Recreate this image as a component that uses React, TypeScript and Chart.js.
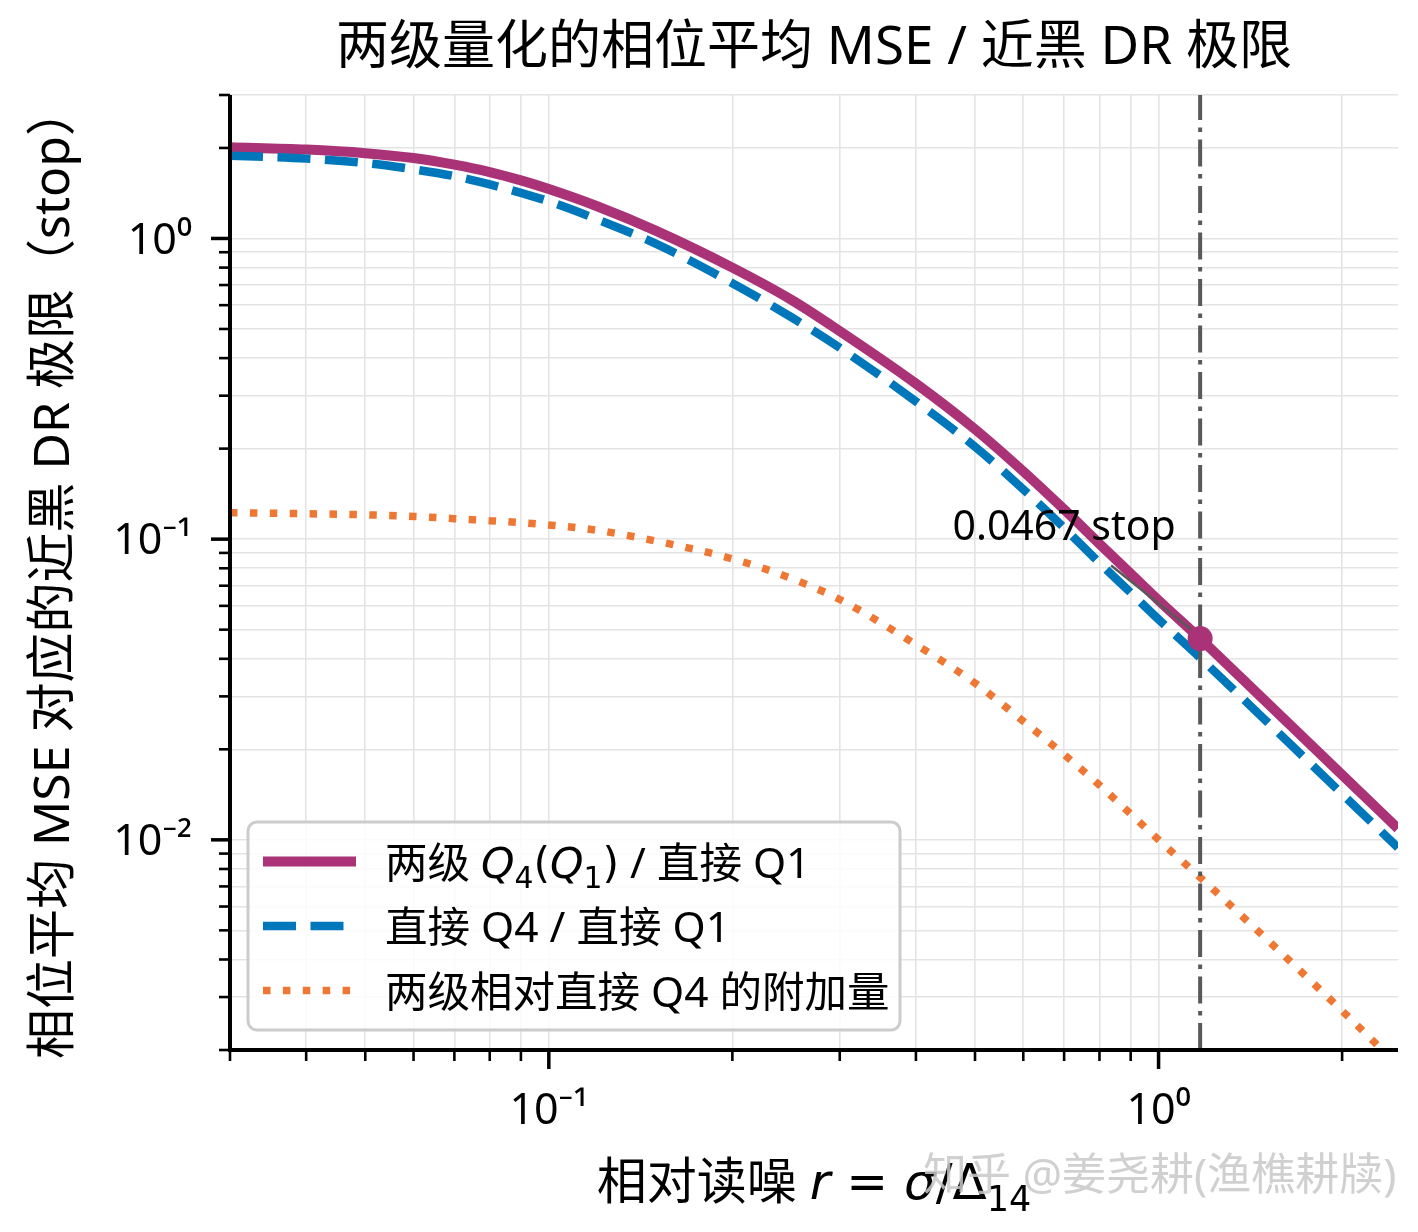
import React, { useEffect, useRef } from 'react';
import { Chart, registerables } from 'chart.js';

Chart.register(...registerables);

// ---------------- data ----------------
const rValues = [0.03, 0.04, 0.05, 0.06, 0.07, 0.08, 0.09, 0.1, 0.12, 0.15, 0.2, 0.25, 0.3, 0.4, 0.5, 0.6, 0.7, 0.8, 0.9, 1.0, 1.17, 1.5, 2.0, 2.47];
const twoLevelValues = [2.01, 1.975, 1.922, 1.852, 1.76, 1.663, 1.56, 1.46, 1.28, 1.06, 0.8, 0.625, 0.492, 0.329, 0.232, 0.168, 0.1255, 0.0965, 0.0768, 0.0626, 0.0467, 0.0288, 0.01645, 0.0109];
const directQ4Values = [1.885, 1.843, 1.782, 1.698, 1.612, 1.513, 1.417, 1.329, 1.158, 0.959, 0.71, 0.547, 0.433, 0.287, 0.203, 0.1465, 0.109, 0.0834, 0.0664, 0.0541, 0.0403, 0.0249, 0.01421, 0.00942];
const extraValues = [0.1225, 0.1215, 0.1205, 0.119, 0.117, 0.1152, 0.1135, 0.1115, 0.107, 0.0985, 0.086, 0.074, 0.063, 0.0446, 0.0332, 0.0248, 0.0192, 0.0152, 0.0122, 0.01, 0.0075, 0.0047, 0.0027, 0.00178];

const stopR = 1.17;
const stopValue = 0.0467;

const xMin = 0.03;
const xMax = 2.47;
const yMin = 0.002;
const yMax = 3;

const xMajorTicks = [0.1, 1];
const xMajorLabels = ['10⁻¹', '10⁰'];
const xMinorTicks = [0.03, 0.04, 0.05, 0.06, 0.07, 0.08, 0.09, 0.2, 0.3, 0.4, 0.5, 0.6, 0.7, 0.8, 0.9, 2];
const yMajorTicks = [0.01, 0.1, 1];
const yMajorLabels = ['10⁻²', '10⁻¹', '10⁰'];
const yMinorTicks = [0.002, 0.003, 0.004, 0.005, 0.006, 0.007, 0.008, 0.009, 0.02, 0.03, 0.04, 0.05, 0.06, 0.07, 0.08, 0.09, 0.2, 0.3, 0.4, 0.5, 0.6, 0.7, 0.8, 0.9, 2, 3];

const titleText = '两级量化的相位平均 MSE / 近黑 DR 极限';
const yTitleText = '相位平均 MSE 对应的近黑 DR 极限（stop）';
const seriesLabels = ['两级 Q₄(Q₁) / 直接 Q1', '直接 Q4 / 直接 Q1', '两级相对直接 Q4 的附加量'];
const watermarkText = '知乎 @姜尧耕(渔樵耕牍)';

type Seg = { t: string; m?: boolean; it?: boolean; sub?: boolean };
const xTitleParts: Seg[] = [
  { t: '相对读噪 ' },
  { t: 'r', m: true, it: true },
  { t: ' = ', m: true },
  { t: 'σ', m: true, it: true },
  { t: '/', m: true },
  { t: 'Δ', m: true },
  { t: '14', m: true, sub: true },
];
const legendParts: Seg[][] = [
  [
    { t: '两级 ' },
    { t: 'Q', m: true, it: true },
    { t: '4', m: true, sub: true },
    { t: '(', m: true },
    { t: 'Q', m: true, it: true },
    { t: '1', m: true, sub: true },
    { t: ')', m: true },
    { t: ' / 直接 Q1' },
  ],
  [{ t: seriesLabels[1] }],
  [{ t: seriesLabels[2] }],
];

// ---------------- styles ----------------
const PURPLE = '#AA3377';
const BLUE = '#0077BB';
const ORANGE = '#EE7733';
const GRAY = '#595959';
const SANS = '"Noto Sans", "Noto Sans CJK SC", sans-serif';
const MATH = '"DejaVu Sans", "Noto Sans", sans-serif';

const seriesStyles = [
  { color: PURPLE, width: 10, dash: [] as number[] },
  { color: BLUE, width: 8.5, dash: [33, 14.5] },
  { color: ORANGE, width: 7.5, dash: [7.5, 12.4] },
];

function segFont(seg: Seg, size: number) {
  const s = seg.sub ? size * 0.7 : size;
  if (seg.m) return `${seg.it ? 'italic ' : ''}${s}px ${MATH}`;
  return `${s}px ${SANS}`;
}
function richWidth(ctx: CanvasRenderingContext2D, segs: Seg[], size: number) {
  let w = 0;
  for (const s of segs) {
    ctx.font = segFont(s, size);
    w += ctx.measureText(s.t).width;
  }
  return w;
}
function drawRich(ctx: CanvasRenderingContext2D, segs: Seg[], x: number, y: number, size: number, align: 'left' | 'center') {
  const total = richWidth(ctx, segs, size);
  let cx = align === 'center' ? x - total / 2 : x;
  ctx.textAlign = 'left';
  ctx.textBaseline = 'alphabetic';
  for (const s of segs) {
    ctx.font = segFont(s, size);
    ctx.fillText(s.t, cx, y + (s.sub ? size * 0.24 : 0));
    cx += ctx.measureText(s.t).width;
  }
}

function isIn(v: number, arr: number[]) {
  return arr.some((m) => Math.abs(v - m) / m < 1e-6);
}
function labelFor(v: number, majors: number[], labels: string[]) {
  const i = majors.findIndex((m) => Math.abs(v - m) / m < 1e-6);
  return i >= 0 ? labels[i] : '';
}

const overlayPlugin = {
  id: 'overlay',
  afterDraw(chart: any) {
    const ctx: CanvasRenderingContext2D = chart.ctx;
    const a = chart.chartArea;
    const xs = chart.scales.x;
    const ys = chart.scales.y;
    ctx.save();

    // spines
    ctx.strokeStyle = '#000';
    ctx.lineWidth = 4;
    ctx.lineCap = 'butt';
    ctx.beginPath();
    ctx.moveTo(a.left, a.top);
    ctx.lineTo(a.left, a.bottom + 2);
    ctx.moveTo(a.left - 2, a.bottom);
    ctx.lineTo(a.right, a.bottom);
    ctx.stroke();

    // tick marks
    for (const t of xs.ticks) {
      const major = isIn(t.value, xMajorTicks);
      const px = xs.getPixelForValue(t.value);
      ctx.lineWidth = major ? 3.5 : 2.6;
      ctx.beginPath();
      ctx.moveTo(px, a.bottom);
      ctx.lineTo(px, a.bottom + (major ? 19 : 11));
      ctx.stroke();
    }
    for (const t of ys.ticks) {
      const major = isIn(t.value, yMajorTicks);
      const py = ys.getPixelForValue(t.value);
      ctx.lineWidth = major ? 3.5 : 2.6;
      ctx.beginPath();
      ctx.moveTo(a.left, py);
      ctx.lineTo(a.left - (major ? 19 : 11), py);
      ctx.stroke();
    }

    // annotation
    const mx = xs.getPixelForValue(stopR);
    const my = ys.getPixelForValue(stopValue);
    ctx.strokeStyle = GRAY;
    ctx.lineWidth = 2.5;
    ctx.beginPath();
    ctx.moveTo(mx - 89, my - 73);
    ctx.lineTo(mx - 9, my - 9);
    ctx.stroke();
    ctx.fillStyle = '#000';
    ctx.font = `41px ${SANS}`;
    ctx.textAlign = 'center';
    ctx.textBaseline = 'alphabetic';
    ctx.fillText(`${stopValue.toFixed(4)} stop`, mx - 136, my - 99);

    // legend
    const bx = a.left + 18;
    const bw = 652;
    const bh = 208;
    const by = a.bottom - 20 - bh;
    ctx.beginPath();
    ctx.roundRect(bx, by, bw, bh, 9);
    ctx.fillStyle = 'rgba(255,255,255,0.85)';
    ctx.fill();
    ctx.strokeStyle = '#cccccc';
    ctx.lineWidth = 3;
    ctx.stroke();
    for (let i = 0; i < legendParts.length; i++) {
      const base = by + 55.6 + i * 64.5;
      const st = seriesStyles[i];
      ctx.save();
      ctx.strokeStyle = st.color;
      ctx.lineWidth = st.width;
      ctx.lineCap = 'butt';
      ctx.setLineDash(st.dash);
      ctx.beginPath();
      ctx.moveTo(bx + 15, base - 16);
      ctx.lineTo(bx + 108, base - 16);
      ctx.stroke();
      ctx.restore();
      ctx.fillStyle = '#000';
      drawRich(ctx, legendParts[i], bx + 137, base, 42.5, 'left');
    }

    // title
    ctx.fillStyle = '#000';
    ctx.font = `53px ${SANS}`;
    ctx.textAlign = 'center';
    ctx.textBaseline = 'alphabetic';
    ctx.fillText(titleText, (a.left + a.right) / 2, 64);

    // x title
    drawRich(ctx, xTitleParts, (a.left + a.right) / 2, 1199, 50, 'center');

    // y title
    ctx.save();
    ctx.translate(69, (a.top + a.bottom) / 2);
    ctx.rotate(-Math.PI / 2);
    ctx.font = `50px ${SANS}`;
    ctx.textAlign = 'center';
    ctx.textBaseline = 'alphabetic';
    ctx.fillText(yTitleText, 0, 0);
    ctx.restore();

    // watermark
    ctx.font = `44px ${SANS}`;
    ctx.textAlign = 'left';
    ctx.fillStyle = 'rgba(200,200,200,0.85)';
    ctx.fillText(watermarkText, 923, 1190);

    ctx.restore();
  },
};

export default function App() {
  const ref = useRef<HTMLCanvasElement>(null);
  useEffect(() => {
    const toPts = (vals: number[]) => rValues.map((x, i) => ({ x, y: vals[i] }));
    const chart = new Chart(ref.current as HTMLCanvasElement, {
      type: 'line',
      data: {
        datasets: [
          {
            label: 'stop',
            data: [{ x: stopR, y: stopValue }],
            showLine: false,
            pointRadius: 12.5,
            pointBackgroundColor: PURPLE,
            pointBorderWidth: 0,
            order: 0,
          },
          {
            label: 'vline',
            data: [{ x: stopR, y: yMin }, { x: stopR, y: yMax }],
            borderColor: GRAY,
            borderWidth: 4,
            borderDash: [27, 7.5, 4.5, 7.5],
            borderCapStyle: 'butt',
            pointRadius: 0,
            tension: 0,
            order: 1,
          },
          {
            label: seriesLabels[2],
            data: toPts(extraValues),
            borderColor: ORANGE,
            borderWidth: seriesStyles[2].width,
            borderDash: seriesStyles[2].dash,
            borderCapStyle: 'butt',
            pointRadius: 0,
            cubicInterpolationMode: 'monotone',
            order: 2,
          },
          {
            label: seriesLabels[1],
            data: toPts(directQ4Values),
            borderColor: BLUE,
            borderWidth: seriesStyles[1].width,
            borderDash: seriesStyles[1].dash,
            borderCapStyle: 'butt',
            pointRadius: 0,
            cubicInterpolationMode: 'monotone',
            order: 3,
          },
          {
            label: seriesLabels[0],
            data: toPts(twoLevelValues),
            borderColor: PURPLE,
            borderWidth: seriesStyles[0].width,
            borderCapStyle: 'butt',
            borderJoinStyle: 'round',
            pointRadius: 0,
            cubicInterpolationMode: 'monotone',
            order: 4,
          },
        ] as any,
      },
      options: {
        animation: false,
        responsive: false,
        devicePixelRatio: 1,
        events: [],
        layout: { padding: { top: 95, right: 20, left: 0, bottom: 0 } },
        plugins: { legend: { display: false }, title: { display: false }, tooltip: { enabled: false } },
        scales: {
          x: {
            type: 'logarithmic',
            min: xMin,
            max: xMax,
            afterBuildTicks: (s: any) => {
              s.ticks = [...xMinorTicks, ...xMajorTicks].sort((p, q) => p - q).map((v) => ({ value: v }));
            },
            afterFit: (s: any) => {
              s.height = 182;
            },
            grid: { color: '#e4e4e4', lineWidth: 1.6, drawTicks: false },
            border: { display: false },
            ticks: {
              autoSkip: false,
              maxRotation: 0,
              padding: 36,
              color: '#000',
              font: { family: SANS, size: 43 },
              callback: (v: any) => labelFor(Number(v), xMajorTicks, xMajorLabels),
            },
          },
          y: {
            type: 'logarithmic',
            min: yMin,
            max: yMax,
            afterBuildTicks: (s: any) => {
              s.ticks = [...yMinorTicks, ...yMajorTicks].sort((p, q) => p - q).map((v) => ({ value: v }));
            },
            afterFit: (s: any) => {
              s.width = 230;
            },
            grid: { color: '#e4e4e4', lineWidth: 1.6, drawTicks: false },
            border: { display: false },
            ticks: {
              autoSkip: false,
              padding: 38,
              labelOffset: 3,
              color: '#000',
              font: { family: SANS, size: 43 },
              callback: (v: any) => labelFor(Number(v), yMajorTicks, yMajorLabels),
            },
          },
        },
      } as any,
      plugins: [overlayPlugin],
    });
    return () => chart.destroy();
  }, []);
  return (
    <div style={{ position: 'absolute', left: 0, top: 0, width: 1418, height: 1232, background: '#fff' }}>
      <canvas ref={ref} width={1418} height={1232} style={{ display: 'block', width: 1418, height: 1232 }} />
    </div>
  );
}
